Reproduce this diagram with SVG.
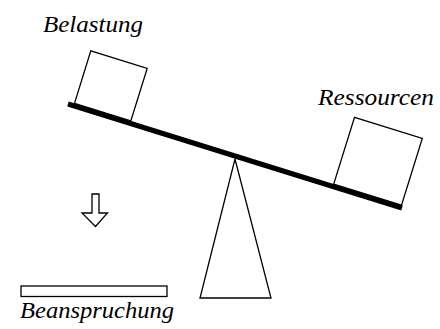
<svg xmlns="http://www.w3.org/2000/svg" width="440" height="329" viewBox="0 0 440 329">
<style>
.o{fill:#fff;stroke:#000;stroke-width:1.3;stroke-linejoin:miter}
text{font-family:'Liberation Serif','Times New Roman',serif;font-style:italic;font-size:22.5px;fill:#000}
</style>
<rect width="440" height="329" fill="#fff"/>
<g id="fulcrum"><polygon class="o" points="235,159 200,298 271,298"/></g>
<g id="beam"><line x1="68" y1="104" x2="402" y2="208" stroke="#000" stroke-width="5"/></g>
<g id="belastung">
<polygon class="o" points="74.5,103.4 90.8,50.9 147.2,68.4 130.8,120.9"/>
<text x="43" y="32" textLength="100" lengthAdjust="spacingAndGlyphs">Belastung</text>
</g>
<g id="ressourcen">
<polygon class="o" points="333.7,184.1 354.5,117.3 422.3,138.4 401.5,205.2"/>
<text x="318" y="105" textLength="116" lengthAdjust="spacingAndGlyphs">Ressourcen</text>
</g>
<g id="arrow"><polygon class="o" points="92,194 99,194 99,213 107.5,213 95.5,226.5 82,213 92,213"/></g>
<g id="beanspruchung">
<rect class="o" x="21" y="286" width="146" height="10.5"/>
<text x="20" y="318" textLength="154" lengthAdjust="spacingAndGlyphs">Beanspruchung</text>
</g>
</svg>
